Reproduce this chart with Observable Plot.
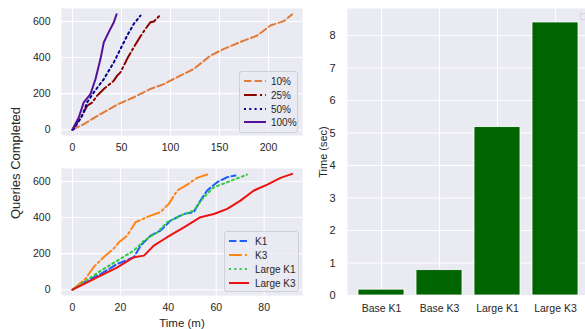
<!DOCTYPE html>
<html>
<head>
<meta charset="utf-8">
<script src="https://cdn.jsdelivr.net/npm/d3@7"></script>
<script src="https://cdn.jsdelivr.net/npm/@observablehq/plot@0.6"></script>
<style>
  html, body { margin: 0; padding: 0; background: #fff; }
  body { width: 585px; height: 329px; position: relative; overflow: hidden; font-family: "Liberation Sans", Arial, sans-serif; color: #262626; }
  .panel { position: absolute; }
  .legend { position: absolute; background: rgba(234,234,242,0.8); border: 1px solid #cfcfd6; border-radius: 3px; font-size: 10px; }
  .lab { position: absolute; font-size: 11.5px; color: #262626; white-space: nowrap; }
</style>
</head>
<body>
<div id="tl" class="panel" style="left:0;top:0"></div>
<div id="bl" class="panel" style="left:0;top:160px"></div>
<div id="rp" class="panel" style="left:300px;top:0"></div>
<div class="lab" style="left:15px;top:163px;font-size:13px;transform:translate(-50%,-50%) rotate(-90deg);">Queries Completed</div>
<div class="lab" style="left:182px;top:323px;transform:translate(-50%,-50%);">Time (m)</div>
<div id="leg1" class="legend" style="left:239px;top:71px;width:57px;height:60px;"></div>
<div id="leg2" class="legend" style="left:224px;top:231px;width:73px;height:59px;"></div>
<div style="position:absolute;left:580px;top:13px;width:5px;height:5px;border:1px solid #d6d6dc;background:#eaeaf2;"></div>
<script>
// ---- top-left: fraction of data ----
const t10 = [0, 11.6, 28.6, 45.6, 62.6, 79.6, 93.2, 110, 123.8, 140.8, 154.4, 174.8, 188.5, 202, 215.6, 224];
const q10 = [0, 31, 87, 139, 180, 226, 253, 300, 337, 411, 448, 494, 522, 578, 602, 639];
const t25 = [0, 3.1, 8, 15, 20, 25.2, 32, 42.2, 45.6, 49, 55.8, 62.6, 69.4, 74.5, 79.6, 83, 89.8];
const q25 = [0, 31, 60, 133, 150, 189, 226, 272, 300, 318, 393, 457, 518, 559, 596, 600, 637];
const t50 = [0, 1.4, 9.9, 15, 21.8, 32, 42.2, 49, 55.8, 62.6, 69.4];
const q50 = [0, 4, 78, 152, 207, 281, 374, 448, 522, 587, 633];
const t100 = [0, 6.4, 11.5, 18.4, 23.5, 28.6, 32, 37, 42.2, 45];
const q100 = [0, 68, 152, 198, 281, 393, 485, 541, 596, 640];
const topLabels = ["10%", "25%", "50%", "100%"];
const topTicksX = [0, 50, 100, 150, 200];
const ticksY = [0, 200, 400, 600];

// ---- bottom-left: models ----
const tK1 = [0, 3.3, 11.7, 18.7, 25.6, 28.4, 32.6, 36.7, 40.9, 46.5, 50.6, 53.4, 56.2, 60.4, 64.6, 68];
const qK1 = [0, 31, 87, 143, 180, 244, 300, 328, 383, 420, 430, 494, 550, 596, 624, 633];
const tK3 = [0, 5.4, 8.9, 13.1, 17.2, 19.5, 22.8, 26.3, 28.4, 32.6, 36.7, 40.2, 43.7, 47.9, 52, 56.2];
const qK3 = [0, 61, 126, 182, 228, 265, 300, 374, 387, 411, 430, 476, 550, 583, 620, 639];
const tLK1 = [0, 4, 11.7, 18.7, 25.6, 29.8, 35.4, 39.5, 45.1, 50.6, 54.8, 59, 64.6, 70.1, 72.9];
const qLK1 = [0, 35, 105, 161, 217, 272, 318, 374, 411, 439, 513, 568, 596, 624, 639];
const tLK3 = [0, 4.7, 11.7, 18.7, 25.6, 29.8, 33.9, 39.5, 46.5, 53.4, 59, 64.6, 70.1, 75.7, 81.3, 86.8, 91.7];
const qLK3 = [0, 31, 78, 124, 180, 189, 244, 291, 346, 402, 420, 448, 494, 550, 583, 620, 642];
const botLabels = ["K1", "K3", "Large K1", "Large K3"];
const botTicksX = [0, 20, 40, 60, 80];

// ---- right: bar chart ----
const barNames = ["Base K1", "Base K3", "Large K1", "Large K3"];
const barValues = [0.18, 0.78, 5.18, 8.4];
const barTicksY = [0, 1, 2, 3, 4, 5, 6, 7, 8];

const BG = "#eaeaf2";
const styleOpts = { fontFamily: "'Liberation Sans', Arial, sans-serif", fontSize: "10.5px", color: "#262626", background: "transparent", overflow: "hidden" };

const topStyles = [
  { color: "#e07b39", dash: "7.4,3.2" },
  { color: "#8b0000", dash: "12.8,3.2,2,3.2" },
  { color: "#00008b", dash: "2,3.3" },
  { color: "#55109a", dash: null }
];
const botStyles = [
  { color: "#1f5bff", dash: "7.4,3.2" },
  { color: "#ff8412", dash: "12.8,3.2,2,3.2" },
  { color: "#2ecc40", dash: "2,3.3" },
  { color: "#ee1111", dash: null }
];

const zipS = (ts, qs) => ts.map((t, i) => ({ t, q: qs[i] }));
const topSeries = [zipS(t10, q10), zipS(t25, q25), zipS(t50, q50), zipS(t100, q100)];
const botSeries = [zipS(tK1, qK1), zipS(tK3, qK3), zipS(tLK1, qLK1), zipS(tLK3, qLK3)];

function linePanel(series, styles, xdom, xticks, height, marginBottom) {
  return Plot.plot({
    width: 305, height,
    marginLeft: 61, marginRight: 3, marginTop: 8, marginBottom,
    style: styleOpts,
    x: { domain: xdom, label: null },
    y: { domain: [-32, 672], label: null },
    marks: [
      Plot.frame({ fill: BG, stroke: null }),
      Plot.gridX(xticks, { stroke: "white", strokeOpacity: 1, strokeWidth: 1.1 }),
      Plot.gridY(ticksY, { stroke: "white", strokeOpacity: 1, strokeWidth: 1.1 }),
      Plot.axisX(xticks, { tickSize: 0, tickPadding: 8, label: null, fontSize: 10.5 }),
      Plot.axisY(ticksY, { tickSize: 0, tickPadding: 11, label: null, fontSize: 10.5 }),
      ...series.map((d, i) => Plot.line(d, { x: "t", y: "q", stroke: styles[i].color, strokeWidth: 2, strokeDasharray: styles[i].dash }))
    ]
  });
}

document.getElementById("tl").append(linePanel(topSeries, topStyles, [-11.2, 234.7], topTicksX, 160, 25));
document.getElementById("bl").append(linePanel(botSeries, botStyles, [-4.6, 96.0], botTicksX, 169, 34));

const bars = barNames.map((name, i) => ({ name, value: barValues[i] }));
document.getElementById("rp").append(Plot.plot({
  width: 285, height: 329,
  marginLeft: 47, marginRight: 0, marginTop: 8, marginBottom: 34,
  style: styleOpts,
  x: { domain: barNames, range: [47, 289], paddingInner: 0.2, paddingOuter: 0.186, label: null },
  y: { domain: [0, 8.83], label: null },
  marks: [
    Plot.frame({ fill: BG, stroke: null }),
    Plot.gridX(barNames, { stroke: "white", strokeOpacity: 1, strokeWidth: 1.1 }),
    Plot.gridY(barTicksY, { stroke: "white", strokeOpacity: 1, strokeWidth: 1.1 }),
    Plot.barY(bars, { x: "name", y: "value", fill: "#006400", stroke: "white", strokeWidth: 0.8 }),
    Plot.axisX(barNames, { tickSize: 0, tickPadding: 9, label: null, fontSize: 10.5 }),
    Plot.axisY(barTicksY, { tickSize: 0, tickPadding: 12, label: "Time (sec)", labelAnchor: "center", labelArrow: "none", labelOffset: 28, fontSize: 11 })
  ]
}));

function legend(id, labels, styles, rowY, x0, x1, tx) {
  const el = document.getElementById(id);
  const svg = d3.select(el).append("svg").attr("width", el.clientWidth).attr("height", el.clientHeight).style("position", "absolute").style("left", 0).style("top", 0);
  labels.forEach((lab, i) => {
    svg.append("line").attr("x1", x0).attr("x2", x1).attr("y1", rowY[i]).attr("y2", rowY[i])
      .attr("stroke", styles[i].color).attr("stroke-width", 2).attr("stroke-dasharray", styles[i].dash);
    svg.append("text").attr("x", tx).attr("y", rowY[i]).attr("dy", "0.35em").attr("font-size", 10).attr("fill", "#262626")
      .attr("font-family", "'Liberation Sans', Arial, sans-serif").text(lab);
  });
}
legend("leg1", topLabels, topStyles, [9, 23, 37, 50], 4, 26, 31);
legend("leg2", botLabels, botStyles, [9, 23, 37, 51], 4, 24, 30);
</script>
</body>
</html>
